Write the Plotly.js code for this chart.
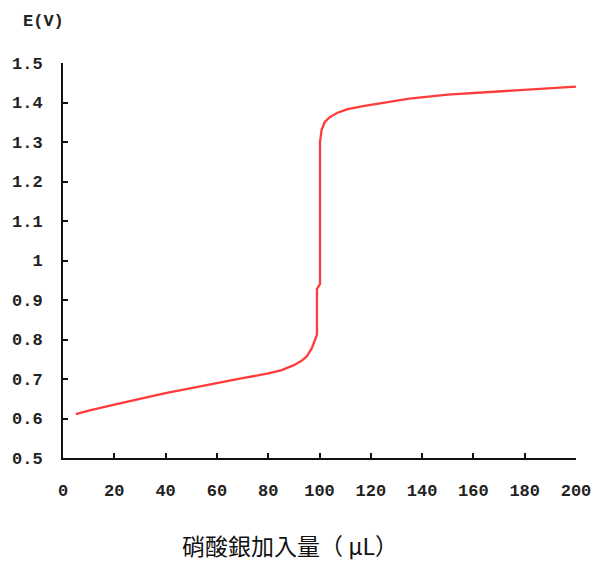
<!DOCTYPE html>
<html>
<head>
<meta charset="utf-8">
<script src="https://cdn.plot.ly/plotly-3.0.1.min.js"></script>
<style>html,body{margin:0;padding:0;background:#fff;}#chart{width:595px;height:562px;}</style>
</head>
<body>
<div id="chart"></div>
<script>
const volume = [5, 10, 20, 30, 40, 50, 60, 70, 80, 85, 90, 93, 95, 97, 98, 99, 99, 99.4, 100.2, 100.2, 100.8, 102, 104, 107, 111, 117, 124, 135, 150, 165, 176, 190, 200];
const potential = [0.611, 0.62, 0.635, 0.65, 0.664, 0.677, 0.69, 0.702, 0.714, 0.722, 0.735, 0.746, 0.757, 0.778, 0.795, 0.812, 0.928, 0.932, 0.94, 1.30, 1.33, 1.35, 1.363, 1.374, 1.383, 1.391, 1.399, 1.41, 1.42, 1.426, 1.429, 1.435, 1.44];
const xTicks = [0, 20, 40, 60, 80, 100, 120, 140, 160, 180, 200];
const yTicks = [0.5, 0.6, 0.7, 0.8, 0.9, 1, 1.1, 1.2, 1.3, 1.4, 1.5];
const yTickText = ["0.5", "0.6", "0.7", "0.8", "0.9", "1", "1.1", "1.2", "1.3", "1.4", "1.5"];
const yAxisTitle = "E(V)";
const xAxisTitle = "硝酸銀加入量（ μL）";

const tickFont = {family: "Liberation Mono, DejaVu Sans Mono, monospace", size: 17, color: "#222", weight: "bold"};

Plotly.newPlot("chart", [{
  x: volume, y: potential, type: "scatter", mode: "lines",
  line: {color: "#ff3b3b", width: 2.3}, hoverinfo: "skip"
}], {
  width: 595, height: 562,
  margin: {l: 63, r: 19, t: 63, b: 104},
  paper_bgcolor: "#fff", plot_bgcolor: "#fff",
  showlegend: false,
  xaxis: {
    range: [0, 200], tickvals: xTicks, ticktext: xTicks.map(String),
    ticks: "inside", ticklen: 5, tickwidth: 2, tickcolor: "#111",
    showline: true, linecolor: "#111", linewidth: 2,
    showgrid: false, zeroline: false, tickfont: tickFont,
    ticklabelstandoff: 16, fixedrange: true
  },
  yaxis: {
    range: [0.5, 1.5], tickvals: yTicks, ticktext: yTickText,
    ticks: "inside", ticklen: 5, tickwidth: 2, tickcolor: "#111",
    showline: true, linecolor: "#111", linewidth: 2,
    showgrid: false, zeroline: false, tickfont: tickFont,
    ticklabelstandoff: 15, fixedrange: true
  },
  annotations: [
    {text: yAxisTitle, xref: "paper", yref: "paper", x: 0, y: 1, xshift: -42, yshift: 42,
     xanchor: "left", yanchor: "middle", showarrow: false,
     font: {family: "Liberation Mono, monospace", size: 17, color: "#222", weight: "bold"}},
    {text: xAxisTitle, xref: "paper", yref: "paper", x: 0, y: 0, xshift: 227, yshift: -87,
     xanchor: "center", yanchor: "middle", showarrow: false,
     font: {family: "Noto Sans CJK TC, sans-serif", size: 23, color: "#111"}}
  ]
}, {displayModeBar: false, staticPlot: true});
</script>
</body>
</html>
